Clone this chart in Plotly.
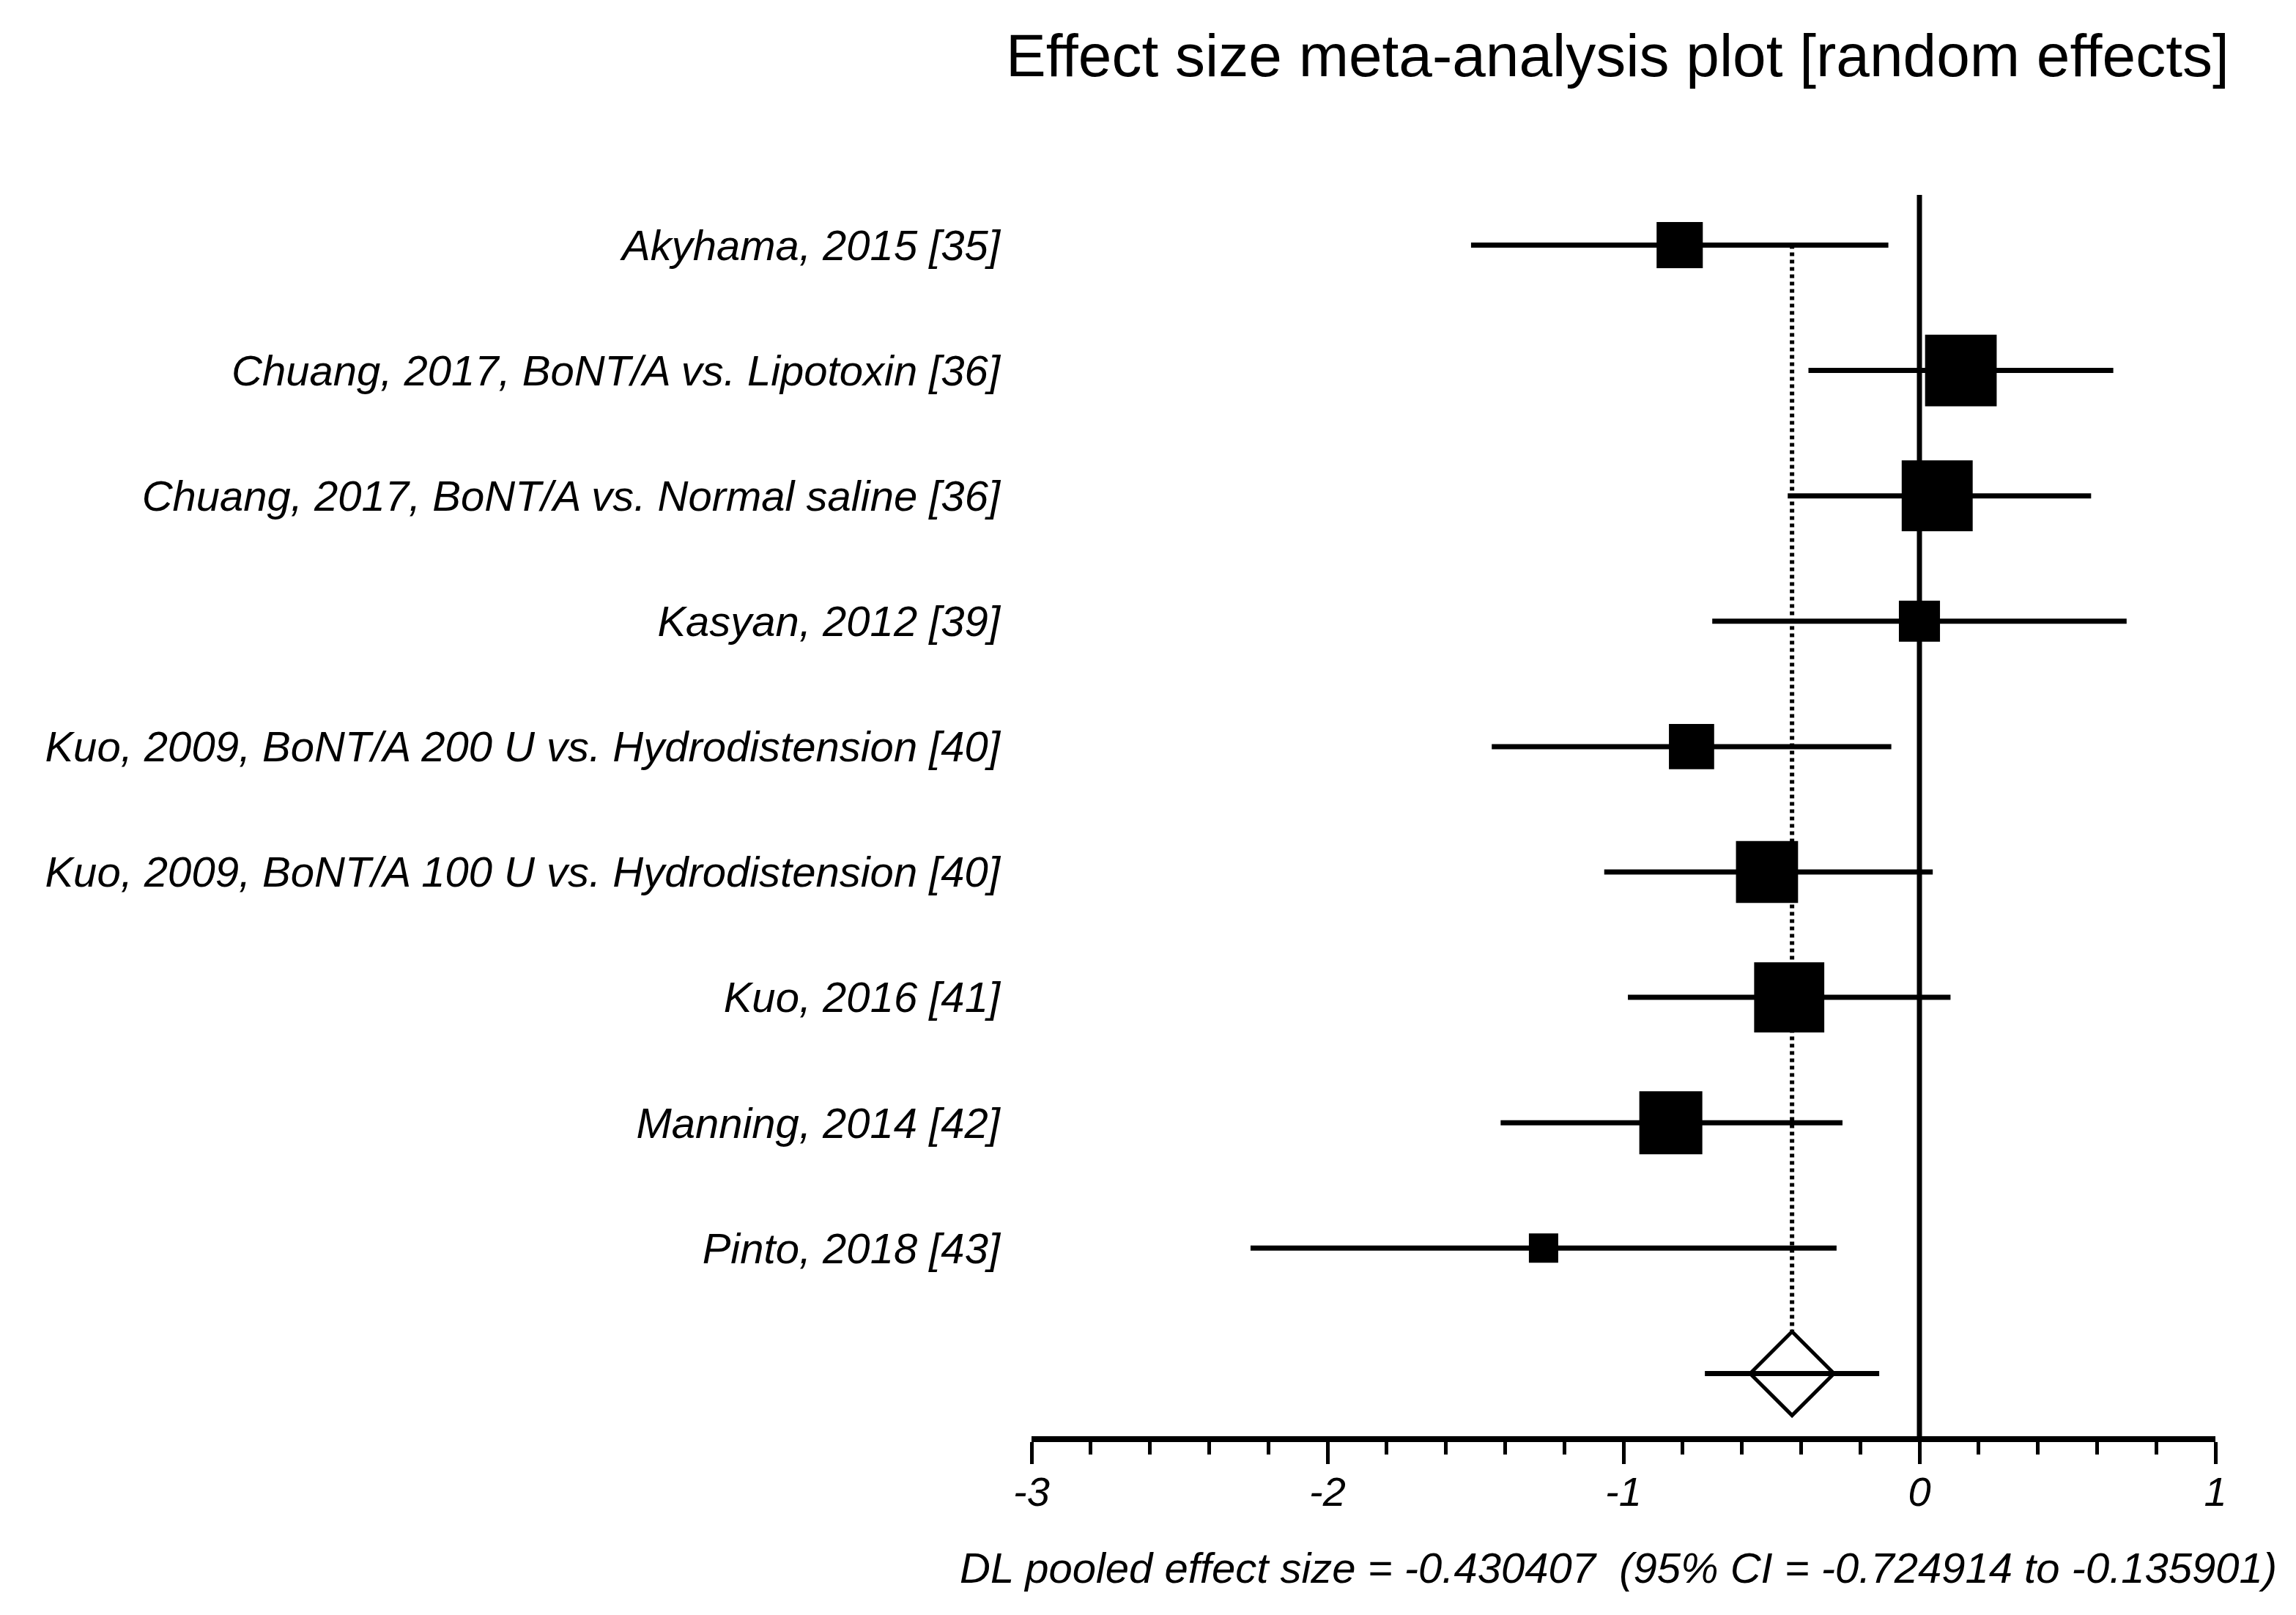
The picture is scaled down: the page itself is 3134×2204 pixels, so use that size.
import numpy as np
import plotly.graph_objects as go

studies = [
    "Akyhama, 2015 [35]",
    "Chuang, 2017, BoNT/A vs. Lipotoxin [36]",
    "Chuang, 2017, BoNT/A vs. Normal saline [36]",
    "Kasyan, 2012 [39]",
    "Kuo, 2009, BoNT/A 200 U vs. Hydrodistension [40]",
    "Kuo, 2009, BoNT/A 100 U vs. Hydrodistension [40]",
    "Kuo, 2016 [41]",
    "Manning, 2014 [42]",
    "Pinto, 2018 [43]",
]
effect = [-0.81, 0.14, 0.06, 0.0, -0.77, -0.515, -0.44, -0.84, -1.27]
ci_low = [-1.515, -0.375, -0.445, -0.70, -1.445, -1.065, -0.985, -1.415, -2.26]
ci_high = [-0.105, 0.655, 0.58, 0.70, -0.095, 0.045, 0.105, -0.26, -0.28]
weights = [7.2, 17.3, 17.0, 5.7, 6.9, 13.0, 16.6, 13.4, 2.9]  # % weight

pooled = -0.430407
pooled_low = -0.724914
pooled_high = -0.135901
null_effect = 0

x_ticks = [-3, -2, -1, 0, 1]
x_ticktext = ["-3", "-2", "-1", "0", "1"]

FONT = "Liberation Sans, Arial, sans-serif"

rows = np.arange(len(studies))
pooled_row = len(studies)
eff = np.array(effect)

fig = go.Figure()

# dotted line at pooled estimate, from first study down to top of diamond
fig.add_shape(type="line", xref="x", yref="y",
              x0=pooled, x1=pooled, y0=rows[0], y1=pooled_row - 0.34,
              line=dict(color="black", width=6, dash="5px,5px"), layer="below")

# line of no effect
fig.add_shape(type="line", xref="x", yref="paper",
              x0=null_effect, x1=null_effect, y0=0, y1=1,
              line=dict(color="black", width=7), layer="below")

fig.add_trace(go.Scatter(
    x=eff, y=rows,
    mode="markers",
    marker=dict(symbol="square", color="black", opacity=1,
                size=23.5 * np.sqrt(weights), line=dict(width=0)),
    error_x=dict(type="data", symmetric=False,
                 array=np.array(ci_high) - eff,
                 arrayminus=eff - np.array(ci_low),
                 width=0, thickness=7, color="black"),
    cliponaxis=False,
    showlegend=False,
))

fig.add_trace(go.Scatter(
    x=[pooled], y=[pooled_row],
    mode="markers",
    marker=dict(symbol="diamond-open", color="black", size=88, opacity=1,
                line=dict(width=5, color="black")),
    error_x=dict(type="data", symmetric=False,
                 array=[pooled_high - pooled],
                 arrayminus=[pooled - pooled_low],
                 width=0, thickness=7, color="black"),
    cliponaxis=False,
    showlegend=False,
))

fig.update_layout(
    width=3134, height=2204,
    paper_bgcolor="white", plot_bgcolor="white",
    margin=dict(l=1408, r=110, t=266, b=244),
    font=dict(family=FONT, color="black"),
    title=dict(text="Effect size meta-analysis plot [random effects]",
               font=dict(family=FONT, size=82, color="black"),
               xref="paper", x=0.495, xanchor="center",
               yref="container", y=0.966, yanchor="middle"),
    xaxis=dict(range=[-3, 1], tickvals=x_ticks, ticktext=x_ticktext,
               showgrid=False, zeroline=False,
               showline=True, linewidth=8, linecolor="black",
               ticks="outside", ticklen=30, tickwidth=5, tickcolor="black",
               ticklabelstandoff=-10,
               tickfont=dict(family=FONT, size=56, style="italic"),
               minor=dict(dtick=0.2, ticks="outside", ticklen=17,
                          tickwidth=5, tickcolor="black", showgrid=False)),
    yaxis=dict(range=[pooled_row + 0.5, -0.4], tickvals=rows, ticktext=studies,
               showgrid=False, zeroline=False, showline=False, ticks="",
               ticklabelstandoff=42,
               tickfont=dict(family=FONT, size=58, style="italic")),
    annotations=[dict(
        text=f"DL pooled effect size = {pooled:.6f}  (95% CI = {pooled_low:.6f} to {pooled_high:.6f})",
        xref="paper", yref="paper", x=1.053, y=-0.106,
        xanchor="right", yanchor="middle", showarrow=False,
        font=dict(family=FONT, size=58, style="italic", color="black"))],
)

fig.write_html("out.html", config={"displayModeBar": False},
               post_script="document.body.style.margin='0px';")
